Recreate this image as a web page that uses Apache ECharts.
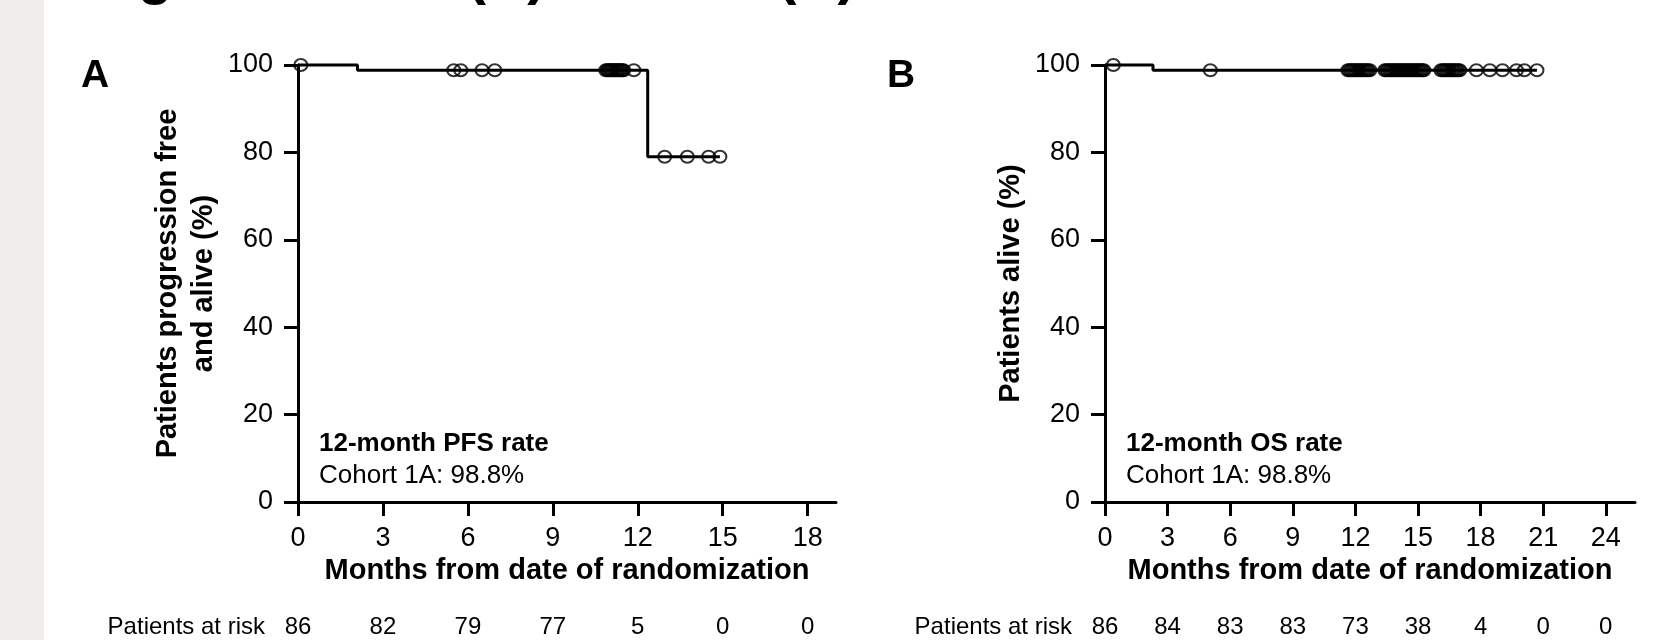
<!DOCTYPE html>
<html><head><meta charset="utf-8">
<script src="https://cdn.jsdelivr.net/npm/echarts@6/dist/echarts.min.js"></script>
<style>
html,body{margin:0;padding:0;background:#fff;}
#c{width:1674px;height:640px;background:linear-gradient(to right,#eeedeb 0,#eeedeb 44px,#fff 44px);}
</style></head><body><div id="c"></div>
<script>
// ---------------- data ----------------
const ticksA = [0, 3, 6, 9, 12, 15, 18];
const ticksB = [0, 3, 6, 9, 12, 15, 18, 21, 24];
const atRiskA = [86, 82, 79, 77, 5, 0, 0];
const atRiskB = [86, 84, 83, 83, 73, 38, 4, 0, 0];
// Kaplan-Meier steps [month, %]
const pfsSteps = [[0, 100], [2.1, 98.8], [12.35, 79.0], [14.9, 79.0]];
const osSteps = [[0, 100], [2.3, 98.8], [20.7, 98.8]];
// censoring times (months)
const pfsCensorTimes = [0.1, 5.5, 5.75, 6.5, 6.95,
  10.87, 10.92, 10.96, 11.0, 11.05, 11.09, 11.14, 11.18, 11.23, 11.27, 11.32, 11.36, 11.41, 11.45, 11.5,
  11.86, 12.95, 13.75, 14.5, 14.9];
const osCensorTimes = [0.4, 5.05,
  11.64, 11.71, 11.79, 11.86, 11.94, 12.01, 12.09, 12.16, 12.24, 12.31, 12.39, 12.46, 12.54, 12.61, 12.69,
  13.41, 13.48, 13.55, 13.63, 13.7, 13.77, 13.84, 13.91, 13.99, 14.06, 14.13, 14.2, 14.27, 14.35, 14.42,
  14.49, 14.56, 14.63, 14.71, 14.78, 14.85, 14.92, 14.99, 15.07, 15.14, 15.21, 15.28,
  16.1, 16.18, 16.25, 16.33, 16.4, 16.48, 16.55, 16.63, 16.7, 16.78, 16.85, 16.93, 17.0,
  17.8, 18.44, 19.05, 19.72, 20.1, 20.7];
const pfsRateLabel = ['12-month PFS rate', 'Cohort 1A: 98.8%'];
const osRateLabel = ['12-month OS rate', 'Cohort 1A: 98.8%'];
const headingText = 'Figure 2. PFS (A) and OS (B)';
// ---------------------------------------

const FONT = '"Liberation Sans", Arial, Helvetica, sans-serif';
function survAt(steps, t) { let s = steps[0][1]; for (const p of steps) if (p[0] <= t) s = p[1]; return s; }
const pfsCensor = pfsCensorTimes.map(t => [t, survAt(pfsSteps, t)]);
const osCensor = osCensorTimes.map(t => [t, survAt(osSteps, t)]);

function xMain(grid, max, ticks) {
  return {
    type: 'value', gridIndex: grid, min: 0, max: max, interval: 3, position: 'bottom',
    axisLine: { show: true, onZero: false, lineStyle: { color: '#000', width: 3 } },
    axisTick: { show: true, length: 14, customValues: ticks, lineStyle: { color: '#000', width: 3 } },
    axisLabel: { customValues: ticks, fontSize: 27, color: '#000', fontFamily: FONT, margin: 23 },
    splitLine: { show: false },
    name: 'Months from date of randomization', nameLocation: 'middle', nameGap: 54, nameMoveOverlap: false,
    nameTextStyle: { fontSize: 29, fontWeight: 'bold', color: '#000', fontFamily: FONT }
  };
}
function xRisk(grid, max, ticks, risk) {
  return {
    type: 'value', gridIndex: grid, min: 0, max: max, position: 'bottom', offset: 125,
    axisLine: { show: false, onZero: false }, axisTick: { show: false },
    axisLabel: { customValues: ticks, fontSize: 24, color: '#000', fontFamily: FONT, margin: 0, verticalAlign: 'middle',
      formatter: v => String(risk[ticks.indexOf(v)]) },
    splitLine: { show: false },
    name: 'Patients at risk', nameLocation: 'start', nameGap: 33, nameMoveOverlap: false,
    nameTextStyle: { fontSize: 24, color: '#000', fontFamily: FONT, verticalAlign: 'middle' }
  };
}
function yAxis(grid, name) {
  return {
    type: 'value', gridIndex: grid, min: 0, max: 100, interval: 20,
    axisLine: { show: true, onZero: false, lineStyle: { color: '#000', width: 3 } },
    axisTick: { show: true, length: 14, lineStyle: { color: '#000', width: 3 } },
    axisLabel: { fontSize: 27, color: '#000', fontFamily: FONT, margin: 25 },
    splitLine: { show: false },
    name: name, nameLocation: 'middle', nameGap: 76, nameRotate: 90, nameMoveOverlap: false,
    nameTextStyle: { fontSize: 29, fontWeight: 'bold', color: '#000', fontFamily: FONT, lineHeight: 36, align: 'center' }
  };
}
function kmLine(xi, yi, data) {
  return { type: 'line', xAxisIndex: xi, yAxisIndex: yi, data: data, step: 'end', symbol: 'none', clip: false,
    lineStyle: { color: '#000', width: 3 }, z: 2, silent: true };
}
function censor(xi, yi, data) {
  return { type: 'scatter', xAxisIndex: xi, yAxisIndex: yi, data: data, symbol: 'circle', symbolSize: [13, 12], clip: false,
    itemStyle: { color: 'rgba(0,0,0,0)', borderColor: '#000', borderWidth: 2 }, z: 3, silent: true };
}
function txt(x, y, s, size, bold) {
  return { type: 'text', x: x, y: y, silent: true,
    style: { text: s, fontSize: size, fontWeight: bold ? 'bold' : 'normal', fontFamily: FONT, fill: '#000', verticalAlign: 'middle', align: 'left' } };
}

const chart = echarts.init(document.getElementById('c'), null, { width: 1674, height: 640 });
chart.setOption({
  animation: false,
  backgroundColor: 'transparent',
  grid: [
    { left: 298, top: 65, width: 538, height: 437, containLabel: false, outerBoundsMode: 'none' },
    { left: 1105, top: 65, width: 530, height: 437, containLabel: false, outerBoundsMode: 'none' }
  ],
  xAxis: [xMain(0, 19, ticksA), xRisk(0, 19, ticksA, atRiskA), xMain(1, 25.4, ticksB), xRisk(1, 25.4, ticksB, atRiskB)],
  yAxis: [yAxis(0, 'Patients progression free\nand alive (%)'), yAxis(1, 'Patients alive (%)')],
  series: [kmLine(0, 0, pfsSteps), censor(0, 0, pfsCensor), kmLine(2, 1, osSteps), censor(2, 1, osCensor)],
  graphic: [
    txt(87, -23, headingText, 57, true),
    txt(81, 76, 'A', 39, true),
    txt(887, 76, 'B', 39, true),
    txt(319, 444, pfsRateLabel[0], 26, true),
    txt(319, 476, pfsRateLabel[1], 26, false),
    txt(1126, 444, osRateLabel[0], 26, true),
    txt(1126, 476, osRateLabel[1], 26, false)
  ]
});
</script></body></html>
